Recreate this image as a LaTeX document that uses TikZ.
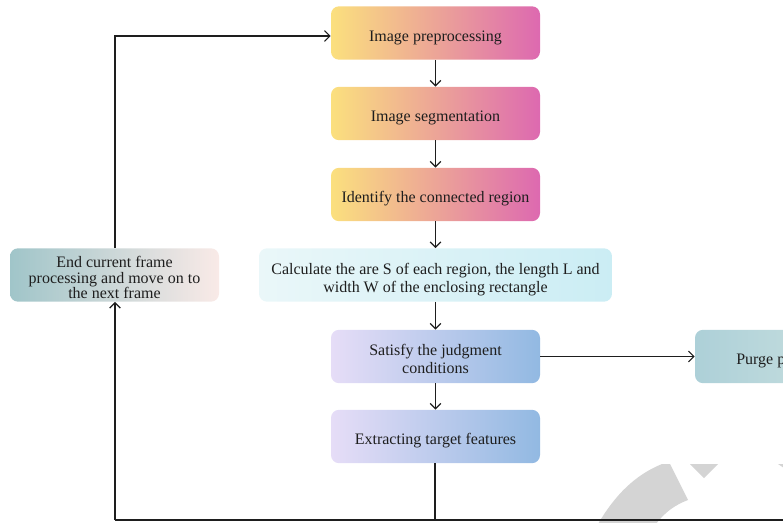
\documentclass[tikz,border=0pt]{standalone}
\usepackage{fontspec}
\setmainfont{Liberation Serif}
\usetikzlibrary{arrows.meta}
\definecolor{ylw}{HTML}{FBE07E}
\definecolor{pnk}{HTML}{F8C6D2}
\definecolor{mag}{HTML}{DD69B0}
\definecolor{cyl}{HTML}{EAF7F9}
\definecolor{cyr}{HTML}{CBEDF4}
\definecolor{lavl}{HTML}{E6DDF7}
\definecolor{lavm}{HTML}{D2D2F0}
\definecolor{blur}{HTML}{92B9E2}
\definecolor{tealL}{HTML}{A0C5C9}
\definecolor{tealM}{HTML}{D6DFDA}
\definecolor{peachR}{HTML}{F9EAE7}
\definecolor{purL}{HTML}{ADD0D8}
\definecolor{purR}{HTML}{D3E6E2}
\definecolor{wm}{HTML}{D4D4D4}
\definecolor{ink}{HTML}{1E1E1E}
\newcommand{\tx}[1]{\raisebox{-3.5pt}[\height][\depth]{\begin{tabular}{@{}c@{}}#1\end{tabular}}}
\tikzset{
  box/.style={rounded corners=6pt, inner sep=0pt,
    minimum height=40pt, font=\fontsize{12}{13.5}\selectfont, text=ink},
  warm/.style={box, minimum width=156.75pt, left color=ylw, middle color=pnk, right color=mag},
  cool/.style={box, minimum width=156.75pt, left color=lavl, middle color=lavm, right color=blur},
  conn/.style={draw=ink, line width=0.9pt},
  arr/.style={conn, -{Straight Barb[length=4pt,width=8pt,line width=0.9pt]}}
}
\begin{document}
\begin{tikzpicture}[x=0.75pt,y=-0.75pt]
\useasboundingbox (0,0) rectangle (783,522);
\begin{scope}
\clip (0,0) rectangle (783,522);
% watermark fragments
\fill[wm] (598,524) .. controls (615,495) and (635,475) .. (662,464)
  -- (670,464) -- (688,500) .. controls (675,505) and (665,512) .. (656,524) -- cycle;
\fill[wm] (690,464) -- (718,464) -- (704,478) -- cycle;
\fill[wm] (778,464) -- (790,464) -- (790,472) -- cycle;
% nodes
\node[warm] (b1) at (435.5,33) {\tx{Image preprocessing}};
\node[warm] (b2) at (435.5,113.5) {\tx{Image segmentation}};
\node[warm] (b3) at (435.5,194.5) {\tx{Identify the connected region}};
\node[box, minimum width=264.75pt, left color=cyl, right color=cyr] (b4) at (435.5,275)
  {\tx{Calculate the are S of each region, the length L and\\width W of the enclosing rectangle}};
\node[cool] (b5) at (435.5,356.5) {\tx{Satisfy the judgment\\conditions}};
\node[cool] (b6) at (435.5,436.5) {\tx{Extracting target features}};
\node[box, font=\fontsize{12}{11}\selectfont, minimum width=156.75pt, left color=tealL, middle color=tealM, right color=peachR] (end) at (114.5,275)
  {\tx{End current frame\\processing and move on to\\the next frame}};
\node[box, minimum width=157.5pt, left color=purL, right color=purR] (purge) at (800,356.5) {};
\node[anchor=west, inner sep=0pt, font=\fontsize{12}{13.5}\selectfont, text=ink] (purgetxt) at (736,361) {Purge p};
\coordinate (bot) at (435,520);
\coordinate (bl) at (115,520);
\coordinate (br) at (790,520);
\coordinate (tl) at (115,36);
% connectors
\draw[arr] (b1) -- (b2);
\draw[arr] (b2) -- (b3);
\draw[arr] (b3) -- (b4.north -| b3);
\draw[arr] (b4.south -| b5) -- (b5);
\draw[arr] (b5) -- (b6);
\draw[arr] (b5.east) -- (purge.west);
\draw[conn] (b6.south -| bot) -- (bot);
\draw[conn] (br) -- (bl);
\draw[arr] (bl) -- (end.south -| bl);
\draw[arr] (end.north -| tl) -- (tl) -- (tl -| b1.west);
\end{scope}
\end{tikzpicture}
\end{document}
